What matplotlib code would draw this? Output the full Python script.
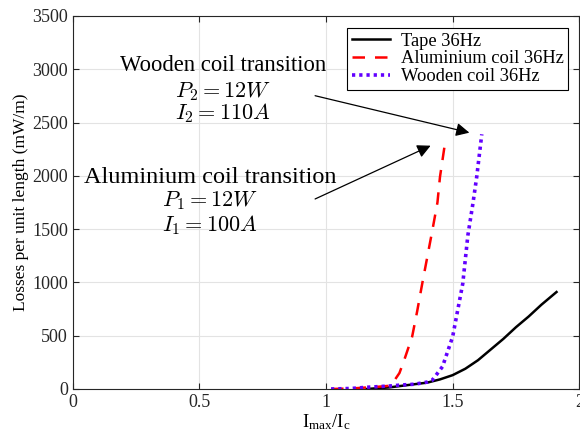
import matplotlib
matplotlib.use("Agg")
import matplotlib.pyplot as plt

plt.rcParams['font.family'] = ['Liberation Serif', 'DejaVu Serif']
plt.rcParams['mathtext.fontset'] = 'custom'
plt.rcParams['mathtext.rm'] = 'Liberation Serif'
plt.rcParams['mathtext.it'] = 'Liberation Serif:italic'

tape_x = [1.16, 1.25, 1.30, 1.35, 1.40, 1.45, 1.50, 1.55, 1.60, 1.65, 1.70, 1.75, 1.80, 1.85, 1.91]
tape_y = [0, 15, 30, 45, 60, 90, 130, 190, 270, 370, 470, 580, 680, 790, 910]

alu_x = [1.02, 1.10, 1.20, 1.25, 1.27, 1.29, 1.31, 1.34, 1.36, 1.38, 1.40, 1.42, 1.44, 1.45, 1.47]
alu_y = [0, 5, 20, 30, 80, 150, 280, 490, 730, 990, 1240, 1490, 1750, 1990, 2310]

wood_x = [1.02, 1.10, 1.16, 1.25, 1.30, 1.35, 1.40, 1.42, 1.46, 1.50, 1.52, 1.54, 1.56, 1.58, 1.595, 1.615]
wood_y = [0, 5, 16, 28, 38, 45, 65, 84, 210, 490, 740, 990, 1440, 1740, 1990, 2390]

labels = ["Tape 36Hz", "Aluminium coil 36Hz", "Wooden coil 36Hz"]

fig = plt.figure(figsize=(5.8, 4.43), dpi=100)
ax = fig.add_axes([0.1253, 0.1219, 0.8735, 0.842])

ax.plot(tape_x, tape_y, color='black', lw=1.8, label=labels[0])
ax.plot(alu_x, alu_y, color='#ff0000', lw=1.8, ls=(0, (5, 4)), label=labels[1])
ax.plot(wood_x, wood_y, color='#6200ff', lw=2.6, ls=(0, (0.9, 1.1)), label=labels[2])

ax.set_xlim(0, 2)
ax.set_ylim(0, 3500)
ax.set_xticks([0, 0.5, 1, 1.5, 2])
ax.set_xticklabels(['0', '0.5', '1', '1.5', '2'])
ax.set_yticks(range(0, 3501, 500))
ax.grid(True, color='#e3e3e3', lw=0.8)
ax.set_axisbelow(True)
ax.tick_params(direction='in', top=True, right=True, labelsize=13, colors='#262626', length=4)
for s in ax.spines.values():
    s.set_color('#262626')
    s.set_linewidth(0.8)

ax.set_ylabel('Losses per unit length (mW/m)', fontsize=12.5, labelpad=2)
ax.set_xlabel(r'I$_{\mathrm{max}}$/I$_{\mathrm{c}}$', fontsize=13.5, labelpad=1)

leg = ax.legend(loc='upper right', bbox_to_anchor=(0.978, 0.968), fontsize=13.3,
                frameon=True, fancybox=False, edgecolor='black', framealpha=1,
                borderpad=0.25, labelspacing=0.05, handlelength=2.05, handletextpad=0.6,
                borderaxespad=0)
leg.get_frame().set_linewidth(0.8)

ax.text(0.592, 3040, 'Wooden coil transition', fontsize=16.3, ha='center', va='center')
ax.text(0.592, 2790, r'$P_2 = 12W$', fontsize=16, ha='center', va='center', math_fontfamily='cm')
ax.text(0.592, 2585, r'$I_2 = 110A$', fontsize=16, ha='center', va='center', math_fontfamily='cm')
ax.text(0.543, 1985, 'Aluminium coil transition', fontsize=17.5, ha='center', va='center')
ax.text(0.543, 1765, r'$P_1 = 12W$', fontsize=16, ha='center', va='center', math_fontfamily='cm')
ax.text(0.543, 1540, r'$I_1 = 100A$', fontsize=16, ha='center', va='center', math_fontfamily='cm')

arrow = dict(arrowstyle='-|>', color='black', lw=0.9, mutation_scale=20, shrinkA=0, shrinkB=0)
ax.annotate('', xy=(1.566, 2405), xytext=(0.957, 2752), arrowprops=arrow)
ax.annotate('', xy=(1.413, 2283), xytext=(0.957, 1783), arrowprops=arrow)

fig.savefig('out.png', dpi=100)
